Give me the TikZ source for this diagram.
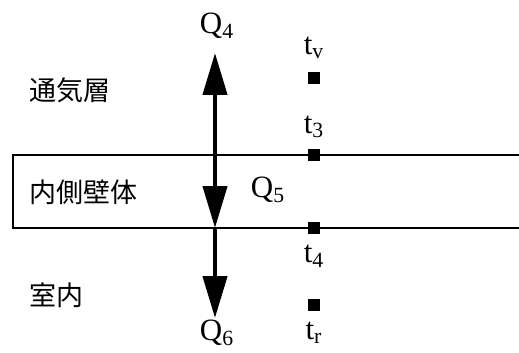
\documentclass[tikz,border=0pt]{standalone}
\usepackage{fontspec}
\setmainfont{Liberation Serif}
\newfontfamily\jpfont{Noto Sans CJK JP}
\usetikzlibrary{positioning,arrows.meta}

\begin{document}
\begin{tikzpicture}[
  x=0.5pt,y=-0.5pt,
  font=\fontsize{15.5}{18}\selectfont,
  lbl/.style={inner sep=0pt,font=\jpfont\fontsize{13.5}{16}\selectfont,anchor=west},
  qlbl/.style={inner sep=1pt},
  tlbl/.style={inner sep=1pt},
  pt/.style={fill=black,minimum size=6.4pt,inner sep=0pt},
  flux/.style={line width=2.2pt,-{Triangle[length=21pt,width=12pt]}},
  wall/.style={line width=0.6pt},
]
  \useasboundingbox (0,0) rectangle (519,353);

  % wall
  \draw[wall] (519,155) -- (13,155) -- (13,228) -- (519,228);
  \coordinate (wt) at (215,155);
  \coordinate (wb) at (215,228);

  % regions
  \node[lbl] (air)  at (29,90)  {通気層};
  \node[lbl] (in)   at (29,192) {内側壁体};
  \node[lbl] (room) at (29,295) {室内};

  % heat flows
  \node[qlbl] (q4) at (217,26)  {Q\textsubscript{4}};
  \node[qlbl] (q5) at (268,190) {Q\textsubscript{5}};
  \node[qlbl] (q6) at (217,333) {Q\textsubscript{6}};
  \coordinate (q4tip) at (215,53);
  \coordinate (q6tip) at (215,318);
  \draw[flux] (wt) -- (q4tip);
  \draw[flux] (wt) -- (wb);
  \draw[flux] (wb) -- (q6tip);

  % temperature points
  \node[pt] (tv) at (314,78)  {};
  \node[pt] (t3) at (314,155) {};
  \node[pt] (t4) at (314,228) {};
  \node[pt] (tr) at (314,305) {};
  \node[tlbl,above=5pt of tv] {t\textsubscript{v}};
  \node[tlbl,above=4pt of t3] {t\textsubscript{3}};
  \node[tlbl,below=4pt of t4] {t\textsubscript{4}};
  \node[tlbl,below=4pt of tr] {t\textsubscript{r}};
\end{tikzpicture}
\end{document}
